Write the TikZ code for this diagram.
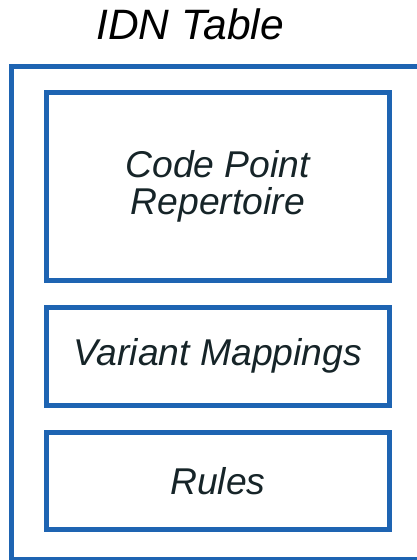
\documentclass[tikz,border=0pt]{standalone}
\usepackage{fontspec}
\setmainfont{Liberation Sans}
\usetikzlibrary{positioning}
\definecolor{idnblue}{RGB}{30,100,178}
\definecolor{idntext}{RGB}{22,36,40}

\begin{document}
\begin{tikzpicture}[x=1pt, y=-1pt,
  font=\itshape\fontsize{37.3}{37}\selectfont,
  frame/.style={rectangle, draw=idnblue, line width=5pt, inner sep=0pt, outer sep=0pt},
  part/.style={frame, align=center, text=idntext, minimum width=342.5pt}]
  \useasboundingbox (0,0) rectangle (416,560);
  \node[font=\itshape\fontsize{42.5}{43}\selectfont] (title) at (190,24) {IDN Table};
  \node[frame, anchor=north west, minimum width=430pt, minimum height=493.5pt] (table) at (11.5,66) {};
  \node[part, anchor=north west, minimum height=187.5pt] (repertoire) at (46.5,92.5) {Code Point\\Repertoire};
  \node[part, below=27.5pt of repertoire, minimum height=97.5pt] (variants) {Variant Mappings};
  \node[part, below=27.5pt of variants, minimum height=97pt] (rules) {Rules};
\end{tikzpicture}
\end{document}
